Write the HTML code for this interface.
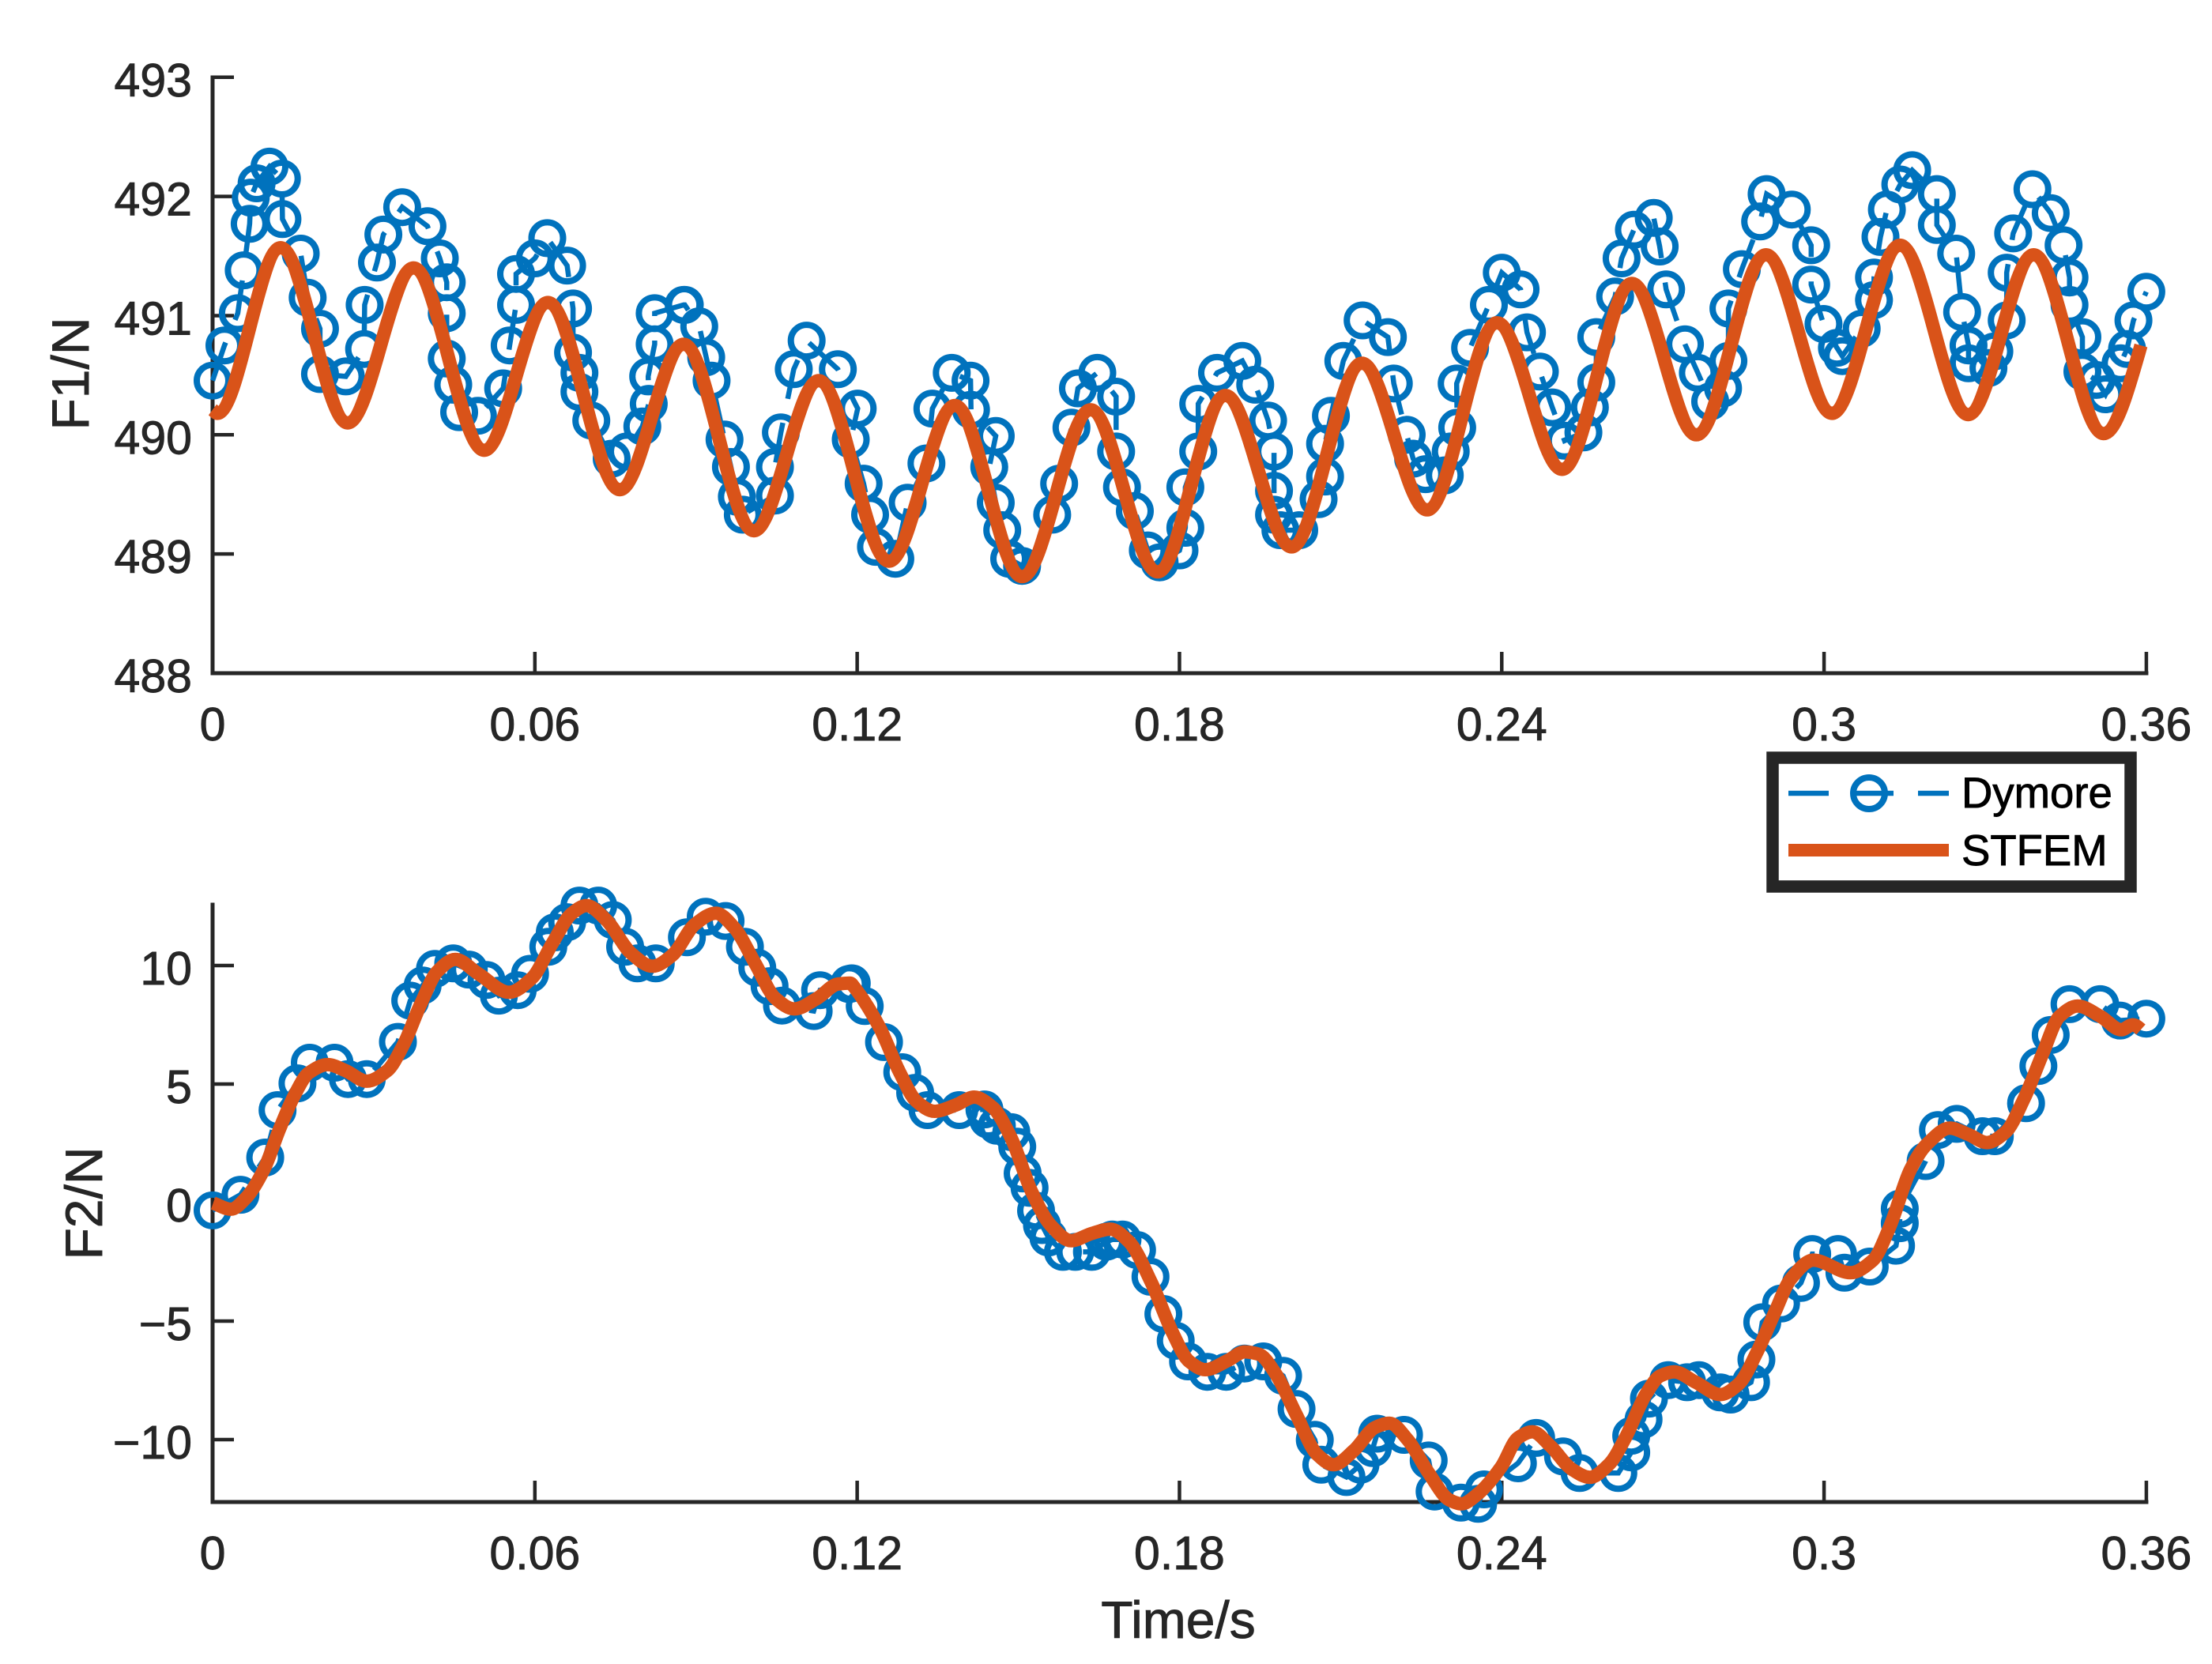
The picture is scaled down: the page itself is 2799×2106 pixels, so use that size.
<!DOCTYPE html>
<html lang="en">
<head>
<meta charset="utf-8">
<title>F1 and F2 over time: Dymore and STFEM</title>
<style>
html,body{margin:0;padding:0;background:#fff;}
svg{display:block;}
text{font-family:"Liberation Sans",Arial,sans-serif;fill:#262626;stroke:#262626;stroke-width:0.9px;}
</style>
</head>
<body>
<svg id="figure" xmlns="http://www.w3.org/2000/svg" width="2799" height="2106" viewBox="0 0 2799 2106">
  <rect x="0" y="0" width="2799" height="2106" fill="#ffffff"/>
  <g id="top-axes"></g>
  <g id="bottom-axes"></g>
  <text x="0" y="0" font-size="66" text-anchor="middle" transform="translate(112 473) rotate(-90)">F1/N</text>
  <text x="0" y="0" font-size="66" text-anchor="middle" transform="translate(129 1523) rotate(-90)">F2/N</text>
  <text x="1491" y="2073" font-size="66" text-anchor="middle">Time/s</text>
  <g>
    <rect x="2243" y="959" width="453" height="163" fill="#ffffff" stroke="#262626" stroke-width="15.5"/>
    <g>
      <line x1="2263" y1="1004" x2="2466" y2="1004" stroke="#0072BD" stroke-width="6.5" stroke-dasharray="51 31"/>
      <circle cx="2365" cy="1004" r="20" fill="none" stroke="#0072BD" stroke-width="8"/>
      <text x="2482" y="1022" font-size="54.5" style="fill:#000;stroke:#000">Dymore</text>
    </g>
    <g>
      <line x1="2263" y1="1076" x2="2466" y2="1076" stroke="#D95319" stroke-width="16"/>
      <text x="2482" y="1095" font-size="54.5" style="fill:#000;stroke:#000">STFEM</text>
    </g>
  </g>
</svg>
<script>
var xTicks = [0, 0.06, 0.12, 0.18, 0.24, 0.3, 0.36];
var xTickLabels = ["0", "0.06", "0.12", "0.18", "0.24", "0.3", "0.36"];
var f1Ticks = [488, 489, 490, 491, 492, 493];
var f1TickLabels = ["488", "489", "490", "491", "492", "493"];
var f2Ticks = [-10, -5, 0, 5, 10];
var f2TickLabels = ["\u221210", "\u22125", "0", "5", "10"];

var dymoreF1Time = [0,.0022,.0047,.0058,.0069,.0071,.0082,.0106,.0129,.013,.0164,.0177,.02,.02,.0248,.0282,.0283,.0306,.0318,.0353,.04,.0423,.0436,.0436,.0436,.0448,.0459,.0494,.0541,.0553,.0565,.0565,.06,.0623,.066,.0671,.0671,.0683,.0683,.0705,
.0743,.0771,.08,.0812,.0811,.0823,.0823,.0877,.0879,.0906,.0919,.0929,.0953,.0965,.0976,.0987,.1047,.1047,.1058,.1082,.1106,.1164,.1201,.1188,.1212,.1224,.1235,.1271,.1294,.1329,.134,.1376,.1411,.1412,
.1458,.1446,.1458,.147,.1483,.1507,.1563,.1576,.1599,.1611,.1647,.1682,.1682,.1693,.1717,.1741,.1763,.18,.1811,.1811,.1835,.1835,.187,.1917,.1941,.1965,.1976,.1976,.1976,.1988,.2023,.2059,.2071,.2071,.2082,.2105,.2141,
.2188,.2199,.2223,.2235,.2258,.2294,.2305,.2317,.2316,.2341,.2376,.24,.2435,.2447,.2471,.2494,.2517,.2552,.2564,.2576,.2576,.2611,.2623,.2646,.2683,.2694,.2706,.2741,.2765,.2788,.2812,.2822,.2822,.2847,
.2881,.2893,.294,.2976,.2976,.2999,.3024,.3034,.307,.3093,.3093,.3105,.3117,.3142,.3164,.321,.321,.3246,.3257,.3269,.3269,.3306,.3317,.334,.334,.3352,.3388,.3422,.3446,.3457,.3457,.3481,.3481,.3507,.3524,.3552,.3564,.3576,.36];
var dymoreF1Value = [490.455,490.75,491.02,491.38,491.77,491.99,492.11,492.25,492.15,491.81,491.52,491.15,490.89,490.51,490.49,490.72,491.09,491.445,491.68,491.91,491.75,491.48,491.28,491.02,490.64,490.42,490.19,490.16,490.39,490.75,491.09,491.35,491.48,491.65,491.42,491.06,490.69,490.52,490.36,490.12,
489.8,489.86,490.07,490.26,490.49,490.76,491.02,491.09,491.09,490.91,490.65,490.455,489.96,489.73,489.48,489.33,489.49,489.73,490.02,490.55,490.79,490.55,490.22,489.96,489.59,489.33,489.06,488.96,489.43,489.76,490.22,490.52,490.455,490.21,
489.99,489.73,489.43,489.2,488.96,488.9,489.33,489.59,490.06,490.39,490.52,490.32,489.86,489.56,489.36,489.03,488.93,489.03,489.22,489.56,489.86,490.26,490.52,490.62,490.42,490.12,489.86,489.53,489.33,489.2,489.2,489.46,489.65,489.925,490.16,490.62,490.96,
490.82,490.43,490,489.8,489.67,489.66,489.86,490.06,490.43,490.73,491.09,491.36,491.22,490.86,490.53,490.23,489.95,490.02,490.23,490.44,490.82,491.16,491.48,491.72,491.82,491.58,491.22,490.76,490.52,490.28,490.39,490.62,491.06,491.39,
491.79,492.02,491.89,491.59,491.26,490.93,490.73,490.66,490.89,491.13,491.32,491.66,491.89,492.1,492.22,492.02,491.76,491.52,491.03,490.75,490.6,490.56,490.7,490.96,491.36,491.69,492.06,491.86,491.59,491.32,491.09,490.82,490.53,490.46,490.34,490.6,490.72,490.96,491.2];

var stfemF1Time = [0,.0009,.01265,.02516,.03741,.05056,.06243,.07581,.08768,.10077,.11284,.12593,.13819,.1507,.16345,.17595,.18856,.20087,.21396,.22612,.23912,.25123,.26423,.27624,.28918,.30147,.31415,.32683,.33901,.35204,.359];
var stfemF1Value = [490.21,490.18,491.57,490.1,491.4,489.87,491.11,489.54,490.76,489.195,490.455,488.94,490.245,488.81,490.21,488.85,490.33,489.06,490.6,489.37,490.94,489.71,491.27,490,491.51,490.18,491.59,490.17,491.51,490.01,490.75];

var dymoreF2Time = [0,.0052,.0098,.0121,.0158,.0181,.0227,.0252,.0287,.0345,.0368,.0391,.0414,.0448,.0477,.051,.0533,.0568,.0591,.0625,.0637,.066,.0683,.0718,.0745,.0768,.0791,.0825,.0883,.0918,.0955,.0991,.1014,.1037,.106,.1119,.1131,.1185,
.119,.1214,.125,.1284,.1308,.1331,.139,.1437,.1444,.146,.1487,.1498,.1508,.1521,.1533,.1544,.1556,.1583,.1606,.1637,.1664,.1675,.1694,.1721,.1746,.177,.1793,.1816,.1852,.1887,.1921,.1956,.1993,.2018,.2052,.2064,.2111,.2137,.216,.2168,.2218,.2264,.2275,.2324,.2356,.2367,
.243,.2464,.2514,.2545,.2617,.2641,.2641,.2664,.2674,.271,.2745,.2767,.2807,.2826,.2864,.2874,.2885,.292,.2957,.2978,.3026,.3038,.3085,.3134,.3141,.3141,.3189,.3212,.3247,.3295,.3318,.3376,.3399,.3422,.3457,.3514,.3551,.36];
var dymoreF2Value = [-0.33,.33,1.9,3.9,5.03,5.9,5.9,5.21,5.21,6.78,8.52,9.16,9.86,10.09,9.83,9.39,8.73,8.96,9.65,10.79,11.4,11.83,12.53,12.53,11.92,10.79,10.09,10.09,11.19,12.06,11.88,10.79,9.91,9.13,8.31,8.08,8.96,9.22,
9.25,8.29,6.77,5.5,4.63,3.9,3.9,3.93,3.5,3.24,2.97,2.36,1.23,.62,-.34,-.95,-1.47,-2.08,-2.08,-2.08,-1.65,-1.56,-1.56,-2,-3.13,-4.7,-5.83,-6.7,-7.14,-7.14,-6.79,-6.7,-7.31,-8.71,-10.01,-11.06,-11.58,-11.06,-10.36,-9.75,-9.8,-10.88,-12.19,-12.66,-12.71,-12.1,
-11,-9.93,-10.71,-11.41,-11.41,-10.54,-9.84,-9.15,-8.27,-7.49,-7.58,-7.49,-8.01,-8.1,-7.58,-6.62,-5.05,-4.26,-3.39,-2.17,-2.17,-2.96,-2.7,-1.82,-.87,-.26,1.75,3.06,3.32,2.8,2.8,4.19,5.76,7.07,8.37,8.37,7.68,7.76];

var stfemF2Time = [.0001,.0034,.0064,.0095,.0125,.0152,.0179,.0214,.0248,.0287,.0325,.0356,.0387,.0418,.0452,.0495,.0552,.0595,.0633,.0668,.0696,.0733,.0779,.0819,.0856,.0898,.0937,.0972,.101,.1048,.1083,.1125,.1164,.1187,.1194,.1241,.1279,.131,.1344,.1383,.1418,.1452,.1487,.1525,.156,.1598,.1637,.1671,.1706,.1748,.1787,.1818,.1848,.1891,.1921,.1948,.1979,.2018,.2056,.2087,.2125,.2164,.2191,.2225,.2264,.2302,.2325,.2356,.2399,.243,.2457,.2491,.253,.2564,.2599,.263,.2668,.2695,.2721,.2761,.2807,.2841,.2876,.2907,.2938,.298,.3049,.3091,.3122,.3161,.3191,.3234,.3268,.3303,.3338,.3372,.3407,.3438,.3472,.3515,.3553,.3575,.359];
var stfemF2Value = [-.02,-.28,.24,1.37,3.12,4.51,5.47,5.82,5.56,5.12,5.56,6.69,8.35,9.74,10.26,9.65,8.87,9.48,10.96,12.18,12.53,11.92,10.52,9.97,10.44,11.74,12.21,11.57,10.09,8.61,8.17,8.61,9.22,9.26,9.1,7.42,5.5,4.28,3.85,4.11,4.45,4.02,2.71,.45,-.95,-1.61,-1.3,-1.12,-1.65,-3.39,-5.48,-6.7,-7.05,-6.65,-6.3,-6.4,-7.22,-8.97,-10.62,-11.06,-10.45,-9.49,-9.31,-10.01,-11.41,-12.54,-12.71,-12.28,-11.15,-9.93,-9.67,-10.28,-11.24,-11.59,-11.06,-9.93,-8.1,-7.31,-7.14,-7.58,-8.1,-7.66,-6.27,-4.7,-3.22,-2.43,-2.96,-2.43,-1.04,1.4,2.45,3.14,2.88,2.53,2.97,4.36,6.28,7.85,8.29,7.85,7.29,7.5,7.3];

var SVG_NS = "http://www.w3.org/2000/svg";
var INK = "#262626";
var BLUE = "#0072BD";
var ORANGE = "#D95319";

function make(tag, parent, attrs, text) {
  var el = document.createElementNS(SVG_NS, tag);
  for (var key in attrs) { el.setAttribute(key, attrs[key]); }
  if (text !== undefined) { el.textContent = text; }
  parent.appendChild(el);
  return el;
}

function xScale(t) { return 269 + t * 6797; }
function yF1(v) { return 852 - (v - 488) * 150.85; }
function yF2(v) { return 1522 - v * 30; }

function polyline(ts, vs, yFn) {
  var d = "";
  for (var i = 0; i < ts.length; i++) {
    d += (i ? "L" : "M") + xScale(ts[i]).toFixed(1) + " " + yFn(vs[i]).toFixed(1);
  }
  return d;
}

function monotonePath(ts, vs, yFn) {
  var n = ts.length, xs = [], ys = [], sec = [], m = [], i;
  for (i = 0; i < n; i++) { xs.push(xScale(ts[i])); ys.push(yFn(vs[i])); }
  for (i = 0; i < n - 1; i++) { sec.push((ys[i + 1] - ys[i]) / (xs[i + 1] - xs[i])); }
  for (i = 1; i < n - 1; i++) {
    m[i] = sec[i - 1] * sec[i] <= 0 ? 0 : 2 * sec[i - 1] * sec[i] / (sec[i - 1] + sec[i]);
  }
  m[0] = sec[0];
  m[n - 1] = (3 * sec[n - 2] - m[n - 2]) / 2;
  var d = "M" + xs[0].toFixed(1) + " " + ys[0].toFixed(1);
  for (i = 0; i < n - 1; i++) {
    var h = (xs[i + 1] - xs[i]) / 3;
    d += "C" + (xs[i] + h).toFixed(1) + " " + (ys[i] + m[i] * h).toFixed(1) + " " +
      (xs[i + 1] - h).toFixed(1) + " " + (ys[i + 1] - m[i + 1] * h).toFixed(1) + " " +
      xs[i + 1].toFixed(1) + " " + ys[i + 1].toFixed(1);
  }
  return d;
}

function drawAxes(group, yFn, yTop, yBottom, yTicks, yLabels, prefix) {
  var yLine = make("line", group, {x1: xScale(0), y1: yTop, x2: xScale(0), y2: yBottom, stroke: INK, "stroke-width": 5, "stroke-linecap": "square"});
  
  
  var xLine = make("line", group, {x1: xScale(0), y1: yBottom, x2: xScale(0.36), y2: yBottom, stroke: INK, "stroke-width": 5, "stroke-linecap": "square"});
  
  
  xTicks.forEach(function (t, i) {
    var tick = make("line", group, {x1: xScale(t), y1: yBottom, x2: xScale(t), y2: yBottom - 27, stroke: INK, "stroke-width": 4.5});
    
    
    var label = make("text", group, {x: xScale(t), y: yBottom + 85, "font-size": 59, "text-anchor": "middle"}, xTickLabels[i]);
    
    
  });
  yTicks.forEach(function (v, i) {
    var tick = make("line", group, {x1: xScale(0), y1: yFn(v), x2: xScale(0) + 27, y2: yFn(v), stroke: INK, "stroke-width": 4.5});
    
    
    var label = make("text", group, {x: 243, y: yFn(v) + 24, "font-size": 59, "text-anchor": "end"}, yLabels[i]);
    
    
  });
}

function drawSeries(group, ts, vs, sTs, sVs, yFn, prefix) {
  var line = make("path", group, {d: polyline(ts, vs, yFn), fill: "none", stroke: BLUE, "stroke-width": 6.5, "stroke-dasharray": "51 31"});
  
  
  for (var i = 0; i < ts.length; i++) {
    var marker = make("circle", group, {cx: xScale(ts[i]).toFixed(1), cy: yFn(vs[i]).toFixed(1), r: 20, fill: "none", stroke: BLUE, "stroke-width": 8});
    
    
  }
  var curve = make("path", group, {d: monotonePath(sTs, sVs, yFn), fill: "none", stroke: ORANGE, "stroke-width": 17, "stroke-linejoin": "round"});
  
  
}

var topGroup = document.getElementById("top-axes");
var bottomGroup = document.getElementById("bottom-axes");
drawAxes(topGroup, yF1, 98, 852, f1Ticks, f1TickLabels, "f1");
drawAxes(bottomGroup, yF2, 1145, 1901, f2Ticks, f2TickLabels, "f2");
drawSeries(topGroup, dymoreF1Time, dymoreF1Value, stfemF1Time, stfemF1Value, yF1, "f1");
drawSeries(bottomGroup, dymoreF2Time, dymoreF2Value, stfemF2Time, stfemF2Value, yF2, "f2");
</script>
</body>
</html>
